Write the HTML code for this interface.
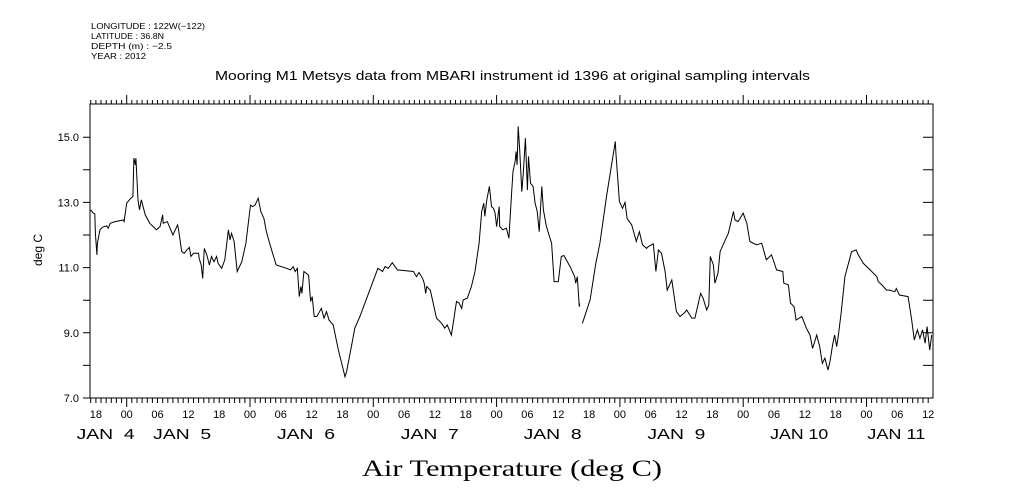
<!DOCTYPE html>
<html><head><meta charset="utf-8"><style>
body{margin:0;background:#fff}
svg{display:block;font-family:"Liberation Sans",sans-serif}
</style></head><body>
<svg id="chart" width="1009" height="504" viewBox="0 0 1009 504" xmlns="http://www.w3.org/2000/svg">
<rect width="1009" height="504" fill="#fff"/>
<g font-size="8.5" fill="#000">
<text x="91" y="29" textLength="114" lengthAdjust="spacingAndGlyphs">LONGITUDE : 122W(−122)</text>
<text x="91" y="39" textLength="73" lengthAdjust="spacingAndGlyphs">LATITUDE : 36.8N</text>
<text x="91" y="49" textLength="81" lengthAdjust="spacingAndGlyphs">DEPTH (m) : −2.5</text>
<text x="91" y="59" textLength="55" lengthAdjust="spacingAndGlyphs">YEAR : 2012</text>
</g>
<text x="215" y="80" font-size="12.5" textLength="595" lengthAdjust="spacingAndGlyphs">Mooring M1 Metsys data from MBARI instrument id 1396 at original sampling intervals</text>
<text x="362" y="476" font-size="23" font-family="Liberation Serif, serif" textLength="300" lengthAdjust="spacingAndGlyphs">Air Temperature (deg C)</text>
<text transform="translate(42,250) rotate(-90)" font-size="12" text-anchor="middle">deg C</text>
<g id="axes"></g>
<path id="series" fill="none" stroke="#000" stroke-width="1"/>
</svg>
<script>
// hours since Jan 4 00:00 ; NaN marks a data gap
const hours = [-7.0,-6.5,-6.2,-6.1,-5.8,-5.7,-5.2,-4.7,-3.9,-3.6,-3.2,-2.3,-0.65,-0.5,0,0.8,1.2,1.4,1.7,1.8,2.2,2.5,2.85,3.6,4.5,5.8,6.5,7.0,7.1,7.9,9.0,9.9,10.1,10.7,11.2,11.7,12.2,12.5,13.0,14.0,14.1,14.5,14.8,15.1,15.6,16.1,16.5,17.0,17.5,17.8,18.5,19.1,19.8,20.1,20.4,20.9,21.5,22.4,23.2,24.1,24.5,25.0,25.6,26.1,26.7,27.2,28.0,29.1,31.1,31.9,32.4,32.8,33.2,33.6,33.9,34.1,34.5,35.4,35.8,36.1,36.5,37.0,37.9,38.4,38.9,39.4,40.2,41.2,42.5,42.8,43.8,44.4,45.4,48.9,49.8,50.3,50.9,51.7,52.7,55.8,56.4,56.9,57.6,57.9,58.2,58.4,59.1,60.3,61.3,61.9,62.4,63.2,64.2,64.7,65.2,65.5,66.3,67.1,67.8,68.6,69.1,69.5,69.7,70.1,70.6,71.0,71.4,71.7,72.0,72.5,72.6,73.2,73.9,74.4,74.9,75.2,75.6,75.8,76.0,76.2,76.5,76.9,77.2,77.6,78.0,78.2,78.6,79.1,79.5,79.9,80.3,80.8,81.1,81.7,82.7,83.2,84.0,84.6,85.1,86.3,87.2,87.4,87.7,88.1,88.2,88.45,88.7,90.2,91.3,92.1,93.4,95.1,95.2,95.9,96.5,97.0,97.4,98.3,99.2,99.8,100.4,101.2,101.5,102.5,103.0,103.5,104.1,104.8,105.2,106.1,107.0,107.7,108.5,109.0,110.0,110.6,111.7,112.2,112.9,113.3,113.6,114.2,114.5,115.1,115.5,116.8,117.1,118.1,118.4,119.0,120.0,120.7,121.3,122.6,123.6,124.5,125.5,126.5,127.7,127.9,128.8,129.2,129.9,130.3,131.4,132.3,133.0,133.5,134.3,134.9,135.4,135.9,136.5,136.9,137.4,137.8,138.2,138.5,139.1,139.8,141.1,142.0,142.4,143.4,144.7,146.0,146.3,147.0,147.9,148.5,149.5,149.8,150.4,152.1,152.8,153.3,153.9,154.4,154.9,155.4,155.8,156.3,156.7];
const temps = [12.77,12.67,12.65,12.05,11.39,11.75,12.16,12.24,12.28,12.21,12.36,12.41,12.46,12.41,12.98,13.13,13.18,14.36,14.15,14.36,13.08,12.77,13.08,12.62,12.36,12.16,12.26,12.62,12.36,12.41,12.0,12.31,12.16,11.49,11.44,11.54,11.62,11.34,11.44,11.44,11.29,11.08,10.67,11.59,11.39,11.08,11.34,11.18,11.34,11.13,10.98,11.24,12.16,11.85,12.05,11.80,10.88,11.18,11.75,12.92,12.87,12.92,13.13,12.72,12.51,12.10,11.64,11.08,10.98,10.93,11.03,10.88,10.98,10.11,10.42,10.21,10.88,10.77,9.96,10.11,9.50,9.50,9.75,9.45,9.65,9.39,9.24,8.47,7.65,7.81,8.63,9.14,9.50,10.98,10.88,11.03,10.98,11.15,10.93,10.88,10.72,10.85,10.67,10.52,10.21,10.42,10.31,9.45,9.29,9.14,9.24,8.93,9.96,9.91,9.75,10.01,10.06,10.42,10.88,11.75,12.72,12.98,12.57,13.08,13.49,12.87,12.82,12.67,12.26,12.87,12.26,12.16,12.21,11.90,13.23,13.95,14.25,14.56,14.15,15.33,14.61,13.33,13.90,14.97,13.38,14.41,13.59,13.49,12.98,12.72,12.10,13.49,12.77,12.26,11.75,10.57,10.57,11.34,11.37,11.03,10.72,10.52,10.72,9.80,9.90,NaN,9.29,10.01,11.13,11.75,13.18,14.87,14.56,13.03,12.82,13.0,12.51,12.31,11.80,12.10,11.70,11.59,11.64,11.73,10.88,11.54,11.44,10.88,10.31,10.62,9.65,9.50,9.60,9.70,9.45,9.45,10.21,10.06,9.70,9.85,11.34,11.08,10.52,10.83,11.49,11.95,12.05,12.72,12.46,12.41,12.67,12.36,11.80,11.70,11.75,11.24,11.39,10.93,10.88,10.52,10.47,9.91,9.80,9.39,9.50,9.14,8.93,8.52,8.93,8.58,8.06,8.22,7.86,8.12,8.63,8.93,8.58,8.88,9.65,10.72,11.49,11.54,11.39,11.13,10.93,10.72,10.57,10.47,10.31,10.31,10.26,10.36,10.16,10.11,9.39,8.78,9.09,8.83,9.09,8.68,9.19,8.47,8.93];
const yTickValues = [7,8,9,10,11,12,13,14,15];
const yTickLabels = ["7.0","","9.0","","11.0","","13.0","","15.0"];
const hourTickLabels = ["18","00","06","12"];
const dayLabels = ["JAN  4","JAN  5","JAN  6","JAN  7","JAN  8","JAN  9","JAN 10","JAN 11"];
const dayLabelHours = [-4.1,10.8,34.9,59.0,82.9,107.0,130.9,149.8];

const L=90,R=933,T=104,B=398;
const x0=126.7, pxPerHour=123.3/24;
const X=h=>x0+h*pxPerHour;
const Y=v=>B-(v-7)*32.6;
const NS="http://www.w3.org/2000/svg";
const ax=document.getElementById('axes');
function mk(tag,attrs,parent){const e=document.createElementNS(NS,tag);for(const k in attrs)e.setAttribute(k,attrs[k]);(parent||ax).appendChild(e);return e;}
let d=`M${L},${T}H${R}V${B}H${L}Z`;
const hMin=Math.ceil((L-x0)/pxPerHour), hMax=Math.floor((R-x0)/pxPerHour);
for(let h=hMin;h<=hMax;h++){
  const x=X(h).toFixed(1);
  const m=((h%24)+24)%24;
  const isDay=m===0;
  d+=`M${x},${T}V${T-(isDay?9:4)}M${x},${B}V${B+(isDay?9:5)}`;
  if(h%6===0){
    const t=mk('text',{x:x,y:B+20,'font-size':11,'text-anchor':'middle'});
    
    
    t.textContent=m===0?hourTickLabels[1]:m===6?hourTickLabels[2]:m===12?hourTickLabels[3]:hourTickLabels[0];
  }
}
yTickValues.forEach((v,i)=>{
  const y=Y(v).toFixed(1);
  d+=`M${L},${y}H${L-7}M${R},${y}H${R-10}`;
  if(yTickLabels[i]){
    const t=mk('text',{x:L-11,y:+y+4,'font-size':11,'text-anchor':'end'});
    
    
    t.textContent=yTickLabels[i];
  }
});
const frame=mk('path',{d:d,fill:'none',stroke:'#000','stroke-width':1});


dayLabels.forEach((lab,i)=>{
  const t=mk('text',{x:(X(dayLabelHours[i])-29).toFixed(1),y:B+41,'font-size':15,textLength:58,lengthAdjust:'spacingAndGlyphs'});
  
  
  t.style.whiteSpace='pre';
  t.textContent=lab;
});
let p='',pen=false;
for(let i=0;i<hours.length;i++){
  if(isNaN(temps[i])){pen=false;continue;}
  p+=(pen?'L':'M')+X(hours[i]).toFixed(1)+','+Y(temps[i]).toFixed(1);
  pen=true;
}
document.getElementById('series').setAttribute('d',p);
</script>
</body></html>
